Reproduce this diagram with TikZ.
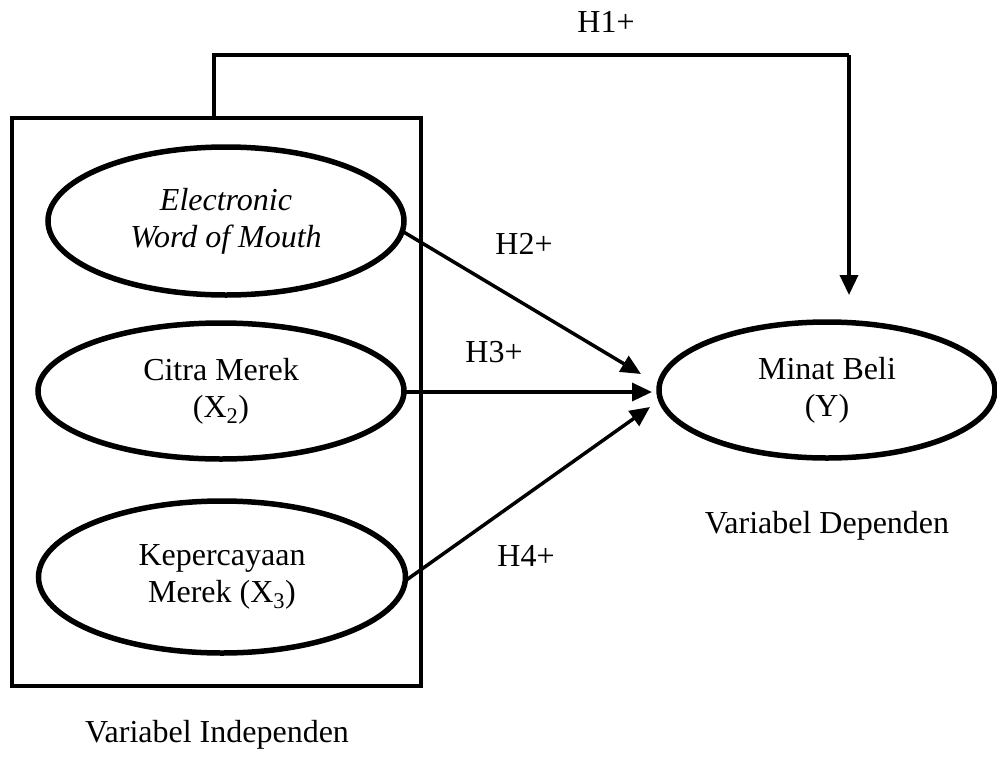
\documentclass[tikz,border=0pt]{standalone}
\usepackage{fontspec}
\setmainfont{Liberation Serif}
\usetikzlibrary{shapes.geometric,arrows.meta}
\begin{document}
\begin{tikzpicture}[x=1pt,y=-1pt,
  every node/.style={font=\fontsize{32}{37}\selectfont},
  var/.style={draw,ellipse,line width=5.5pt,inner sep=0pt,align=center},
  frame/.style={draw,line width=4pt,inner sep=0pt},
  conn/.style={line width=3.5pt,-{Triangle[length=20pt,width=18pt]}},
  lbl/.style={inner sep=0pt}]
\useasboundingbox (0,0) rectangle (997,756);
\node[frame,minimum width=409pt,minimum height=568pt] (box) at (216.5,401.5) {};
\node[var,minimum width=356pt,minimum height=148pt] (e1) at (226,221) {\itshape Electronic\\\itshape Word of Mouth};
\node[var,minimum width=366pt,minimum height=136pt] (e2) at (221,391) {Citra Merek\\(X\textsubscript{2})};
\node[var,minimum width=367pt,minimum height=152pt] (e3) at (222,577) {Kepercayaan\\Merek (X\textsubscript{3})};
\node[var,minimum width=336pt,minimum height=136pt] (y) at (827,390) {Minat Beli\\(Y)};
\coordinate (h1s) at (214,118);
\coordinate (h1c) at (849,55);
\coordinate (h1e) at (849,295);
\coordinate (h2s) at (402,231);
\coordinate (h2e) at (641,374);
\coordinate (h3s) at (405,392);
\coordinate (h3e) at (652,392);
\coordinate (h4s) at (405,581);
\coordinate (h4e) at (650,407);
\draw[line width=3.5pt] (h1s) |- (h1c);
\draw[conn] (h1c) -- (h1e);
\draw[conn] (h2s) -- (h2e);
\draw[conn] (h3s) -- (h3e);
\draw[conn] (h4s) -- (h4e);
\node[lbl] (l1) at (606,22) {H1+};
\node[lbl] (l2) at (524,244) {H2+};
\node[lbl] (l3) at (494,352) {H3+};
\node[lbl] (l4) at (526,556) {H4+};
\node[lbl] (dep) at (827,526) {Variabel Dependen};
\node[lbl] (ind) at (217,735) {Variabel Independen};
\end{tikzpicture}
\end{document}
